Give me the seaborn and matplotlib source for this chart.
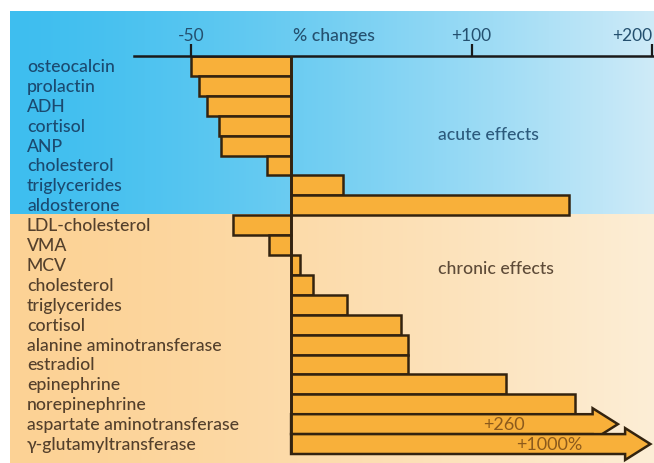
import numpy as np
import pandas as pd
import matplotlib
matplotlib.use('Agg')
import matplotlib.pyplot as plt
import seaborn as sns
from matplotlib.patches import FancyArrow

# data (% change)
acute_labels = ['osteocalcin', 'prolactin', 'ADH', 'cortisol', 'ANP',
                'cholesterol', 'triglycerides', 'aldosterone']
acute_values = [-50, -46, -42, -36, -35, -12, 29, 154]
chronic_labels = ['LDL-cholesterol', 'VMA', 'MCV', 'cholesterol', 'triglycerides',
                  'cortisol', 'alanine aminotransferase', 'estradiol', 'epinephrine',
                  'norepinephrine', 'aspartate aminotransferase', 'γ-glutamyltransferase']
chronic_values = [-29, -11, 5, 12, 31, 61, 65, 65, 119, 157, 260, 1000]
arrow_labels = ['+260', '+1000%']
arrow_tips = [181, 199]          # off-scale values drawn as arrows up to here
tick_values = [-50, 100, 200]
tick_labels = ['-50', '+100', '+200']

labels = acute_labels + chronic_labels
values = acute_values + chronic_values
n_rows = len(labels)
df = pd.DataFrame({'row': range(n_rows), 'label': labels, 'value': values,
                   'group': ['acute'] * len(acute_labels) + ['chronic'] * len(chronic_labels)})
on_scale = df[df['value'] <= 200]
off_scale = df[df['value'] > 200]

sns.set_style('white')
plt.rcParams['font.family'] = ['Lato', 'DejaVu Sans']

BAR = '#f8b03a'
EDGE = '#33230f'
W, H = 654, 464
fig = plt.figure(figsize=(W / 100, H / 100), dpi=100)

# background: blue (acute) and peach (chronic) panels with horizontal gradient
bg = fig.add_axes([0, 0, 1, 1])
img = np.ones((H, W, 3))
t = np.clip((np.arange(W) - 10) / (W - 10), 0, 1) ** 1.4
blue_l, blue_r = np.array([0x3e, 0xbe, 0xef]) / 255, np.array([0xcf, 0xeb, 0xf8]) / 255
peach_l, peach_r = np.array([0xfc, 0xd2, 0x95]) / 255, np.array([0xfd, 0xee, 0xd6]) / 255
img[12:215, 10:] = (blue_l + (blue_r - blue_l) * t[:, None])[10:][None, :, :]
img[215:, 10:] = (peach_l + (peach_r - peach_l) * t[:, None])[10:][None, :, :]
bg.imshow(img, extent=(0, W, H, 0), aspect='auto')
bg.set_axis_off()

ax = fig.add_axes([134 / W, 9 / H, 520 / W, 398 / H])
ax.patch.set_alpha(0)

sns.barplot(data=on_scale, x='value', y='row', orient='h', order=list(range(n_rows)),
            color=BAR, saturation=1, width=1.0, edgecolor=EDGE, linewidth=1.8, ax=ax)

# off-scale rows as arrows
for (_, r), tip in zip(off_scale.iterrows(), arrow_tips):
    ax.add_patch(FancyArrow(0, r['row'], tip, 0, width=1.0, head_width=1.6,
                            head_length=14, length_includes_head=True,
                            fc=BAR, ec=EDGE, lw=1.8, clip_on=False, zorder=3))

ax.axvline(0, color=EDGE, lw=2, zorder=4)

# negative side is drawn a bit wider than the positive side
k = 1.108
ax.set_xscale('function', functions=(lambda x: np.where(x < 0, x * k, x),
                                     lambda x: np.where(x < 0, x / k, x)))
ax.set_xlim(-87 / k, 201)
ax.set_ylim(n_rows - 0.5, -0.5)

ax.xaxis.tick_top()
ax.set_xticks(tick_values)
ax.set_xticklabels(tick_labels)
ax.tick_params(axis='x', direction='out', length=8.5, width=1.6, color='#1a1a1a',
               pad=1, labelsize=12.5, labelcolor='#24506f')
ax.get_xticklabels()[-1].set_ha('right')
ax.set_yticks([])
ax.set_xlabel('')
ax.set_ylabel('')
for s in ['left', 'right', 'bottom']:
    ax.spines[s].set_visible(False)
ax.spines['top'].set_linewidth(1.8)
ax.spines['top'].set_color('#1a1a1a')

# row labels
for _, r in df.iterrows():
    col = '#1b4a70' if r['group'] == 'acute' else '#54402c'
    y_pix = 57 + (r['row'] + 0.5) * 398 / n_rows
    fig.text(27 / W, 1 - y_pix / H, r['label'], ha='left', va='center',
             fontsize=12.7, color=col, fontweight='medium')

fig.text(334 / W, 1 - 36 / H, '% changes', ha='center', va='center',
         fontsize=12.7, color='#24506f', fontweight='medium')
fig.text(488 / W, 1 - 135 / H, 'acute effects', ha='center', va='center',
         fontsize=12.7, color='#2c5a7c', fontweight='medium')
fig.text(496 / W, 1 - 269 / H, 'chronic effects', ha='center', va='center',
         fontsize=12.7, color='#5e4b38', fontweight='medium')
fig.text(504 / W, 1 - 425 / H, arrow_labels[0], ha='center', va='center',
         fontsize=13, color='#8c5a1c')
fig.text(549 / W, 1 - 445 / H, arrow_labels[1], ha='center', va='center',
         fontsize=13, color='#8c5a1c')

fig.savefig('out.png', dpi=100)
